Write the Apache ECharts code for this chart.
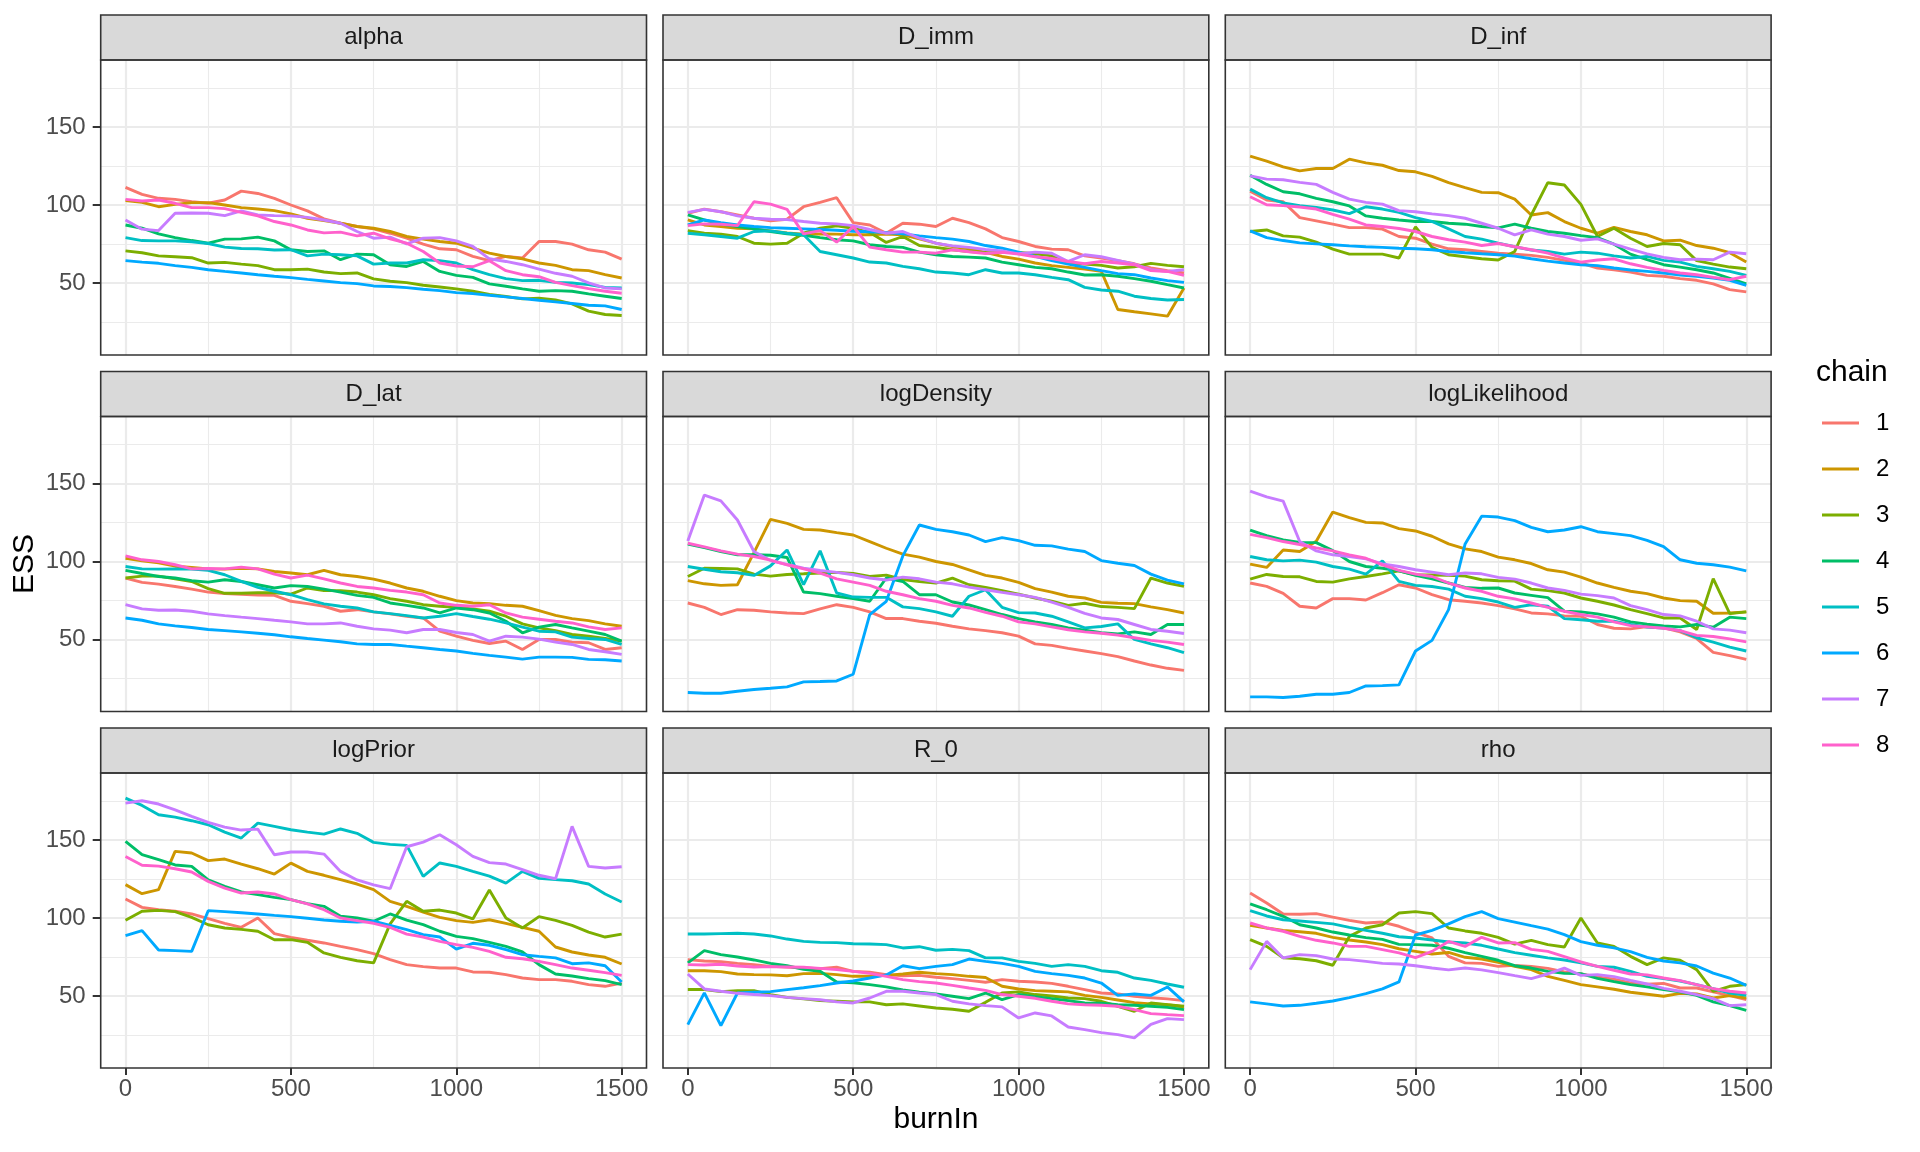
<!DOCTYPE html>
<html>
<head>
<meta charset="utf-8">
<script src="https://cdn.jsdelivr.net/npm/echarts@6/dist/echarts.min.js"></script>
<style>
html,body{margin:0;padding:0;background:#ffffff;}
#chart{width:1920px;height:1152px;}
</style>
</head>
<body>
<div id="chart"></div>
<script>
// ---------------- data ----------------
const BURN_IN = [0,50,100,150,200,250,300,350,400,450,500,550,600,650,700,750,800,850,900,950,1000,1050,1100,1150,1200,1250,1300,1350,1400,1450,1500];
const CHAINS = ['1','2','3','4','5','6','7','8'];
const PARAMETERS = ['alpha','D_imm','D_inf','D_lat','logDensity','logLikelihood','logPrior','R_0','rho'];
const X_TICKS = [0,500,1000,1500];
const X_MINOR = [250,750,1250];
const Y_TICKS = [50,100,150];
const Y_MINOR = [25,75,125,175];

const ESS_alpha = [
 [111.3,106.8,104.3,103.6,102.1,101.1,103.2,108.9,107.4,104.3,100,96.2,91.1,88.3,86.2,84.7,81.9,78.7,74.9,71.9,71.3,67,64.3,67,66,76.6,76.6,74.9,71.3,69.8,65.3],
 [102.8,101.7,98.9,100.4,101.5,101.5,100,98.3,97.4,96.4,94.3,91.5,90,88.3,86.2,85.1,83,79.8,78.1,76.6,75.5,72.3,69.1,67,65.5,62.8,61.3,58.5,57.9,55.3,53.2],
 [70.6,69.4,67.4,66.8,66.2,62.8,63.2,62.1,61.1,58.5,58.5,58.9,57,56,56.4,52.6,51.1,50.2,48.5,47.4,46.2,44.7,42.6,41.3,39.8,40.2,39.1,36.6,31.9,29.8,29.1],
 [87.2,85.1,81.5,79.1,77.2,75.5,78.1,78.3,79.4,77,71.3,70.2,70.6,64.9,68.5,68.1,61.7,60.6,63.8,57.4,54.9,53.6,49.4,47.9,46.2,44.7,45.1,44.7,43,41.5,40],
 [79.1,77.2,77,77,76.4,75.3,73,72.1,71.9,71.1,71.3,67.4,68.5,68.1,67.4,62.1,62.8,62.8,64.9,64.3,62.8,58.5,55.3,52.8,51.5,51.7,50.4,50,48.9,47.2,46.8],
 [64.3,63.4,62.6,61.1,60,58.5,57.4,56.4,55.3,54.3,53.4,52.3,51.3,50.2,49.6,48.1,47.7,47,46,45.1,43.8,43.2,42.1,41.1,40,38.9,37.9,36.8,35.7,35.3,33],
 [90.4,84.5,83.6,94.7,94.9,94.7,93.2,96.2,93.6,93.2,93,92.1,90.4,88.3,83,78.7,79.4,75.1,78.7,79.1,77,73.4,65.5,63.8,61.7,58.9,56.2,54.3,50,46.8,46.2],
 [103.6,102.6,103.2,101.1,98.3,98.3,97.7,95.3,93,89.4,87.2,84,82.1,82.6,80.2,81.9,78.3,75.5,70.2,62.8,60.9,60.4,64.3,57.9,55.3,54,50.4,48.3,46.4,44.7,43.4]
];
const ESS_D_imm = [
 [94.7,97.4,95.7,93.6,91.5,89.8,90.9,98.9,101.7,104.7,88.7,87.2,81.9,88.3,87.7,86.2,91.5,88.7,84.7,79.1,76.6,73.4,71.7,71.3,67.4,66,64.3,62.3,59.6,57.9,56.4],
 [90.4,87.2,86.2,85.1,84.7,83.4,82.1,81.3,81.5,81.3,80.9,80.9,81.3,80.9,78.3,75.5,73.4,71.9,69.6,67,65.3,62.8,61.1,60,58.9,57.4,33,31.5,30.2,28.7,46.8],
 [83.6,81.9,81.3,79.8,75.5,74.9,75.5,81.9,85.1,86.6,85.1,82.3,76,79.8,74,72.8,71.3,70.2,69.4,69.6,69.6,68.7,67.4,62.8,62.1,61.3,59.6,60.4,62.6,61.3,60.4],
 [93.6,90.4,87.7,86.2,84.7,83,81.5,80.6,79.1,77.7,77,74.5,73.4,72.8,69.8,68.1,67,66.6,66,63.4,61.7,60,59.1,57,55.1,55.3,54.3,52.8,51.1,48.9,46.8],
 [81.9,80.9,79.8,78.7,83,83.4,81.9,80.9,70.2,68.1,66,63.4,62.8,60.6,59.1,57,56.4,55.3,58.5,56.4,56.4,55.3,53.6,52.1,47.2,45.5,44.7,41.5,40,39.1,39.4],
 [87.2,90.4,88.7,87.2,86.2,85.5,85.1,84.7,84.3,83.8,83.2,82.8,82.3,81.5,80.2,79.1,78.1,76.6,74,72.3,69.8,67,64.3,62.1,60,57.9,56,55.3,53.2,51.5,50.4],
 [95.3,97.2,95.7,93,91.5,90.9,90.6,89.4,88.3,87.9,86.8,84.3,81.9,83,78.7,75.5,73.8,72.8,71.5,70.6,68.7,69.8,69.1,63.8,68.1,66.8,64.5,62.1,58.5,57.4,58.5],
 [86.8,87.9,87.7,86.8,102.1,100.6,97.2,81.5,83.6,76.2,86.2,73,71.3,69.8,69.8,69.1,71.3,70,68.9,69.6,68.5,66.8,65.7,63.8,62.3,63.8,62.8,61.7,57.9,57.4,54.9]
];
const ESS_D_inf = [
 [108.9,103.2,102.1,91.9,89.8,87.7,85.5,85.5,84.5,79.8,78.7,74.9,71.9,71.3,70.2,69.1,68.5,67.7,66.4,64.5,62.8,59.6,58.5,57,54.9,54.3,52.8,51.7,49.4,45.7,44.3],
 [131.3,128.1,124.5,121.9,123.4,123.4,129.4,127,125.5,122.1,121.3,118.3,114.3,111.1,108.1,107.9,103.8,93.6,95.1,89.4,85.1,81.9,85.7,83,80.9,77,77.4,74,72.3,69.4,63.4],
 [83,84,80.2,79.4,76.2,71.7,68.5,68.5,68.5,66,86,72.8,68.1,66.8,65.5,64.7,70.2,93.6,114.3,112.8,100.4,79.8,85.1,78.7,73.4,75.3,74.5,64.3,62.1,60.2,59.1],
 [119.1,113.2,108.5,107.2,104.3,102.1,99.4,93,91.5,90.4,89.4,89.4,88.3,87.7,86.2,85.3,87.7,85.1,83,81.9,80.4,79.1,74.9,68.5,64.9,61.7,60.2,58.5,56.4,53,49.4],
 [110.2,104.7,101.3,99.6,98.5,96.8,94.5,98.9,97.4,95.3,91.9,89.4,84.7,79.8,78.1,75.5,73.2,71.1,70.2,68.5,69.8,69.1,67.4,66,67,64.5,63.4,60.6,59.1,57.4,54.9],
 [83.4,79.1,77.2,75.7,75.1,74.5,73.8,73.2,72.8,72.3,71.9,71.3,70.2,69.4,68.7,68.1,67.2,65.5,64,62.8,61.7,61.1,59.6,58.3,57.4,56.4,55.1,54.3,53.2,51.7,48.5],
 [118.7,116.6,116.2,114.5,113.2,108.1,103.8,101.7,100.6,96.4,95.7,94.3,93.2,91.5,88.3,85.1,80.9,84,81.3,79.8,77.4,78.3,74.9,71.7,68.7,66.4,64.9,65.3,64.9,69.8,68.7],
 [105.3,100.2,99.6,98.7,97.4,94,90.9,87.2,86.2,84.9,83,79.8,77.7,76.2,74,75.3,73.2,71.3,69.1,65.9,63.4,64.7,65.5,62.3,60,58.1,56.4,55.3,53.6,52.1,54.3]
];
const ESS_D_lat = [
 [89.4,86.6,85.5,84,82.3,80.4,79.4,78.9,78.5,78.3,74.5,73,71.3,68.1,69.1,67.7,66.4,64.9,63.8,55.3,52.1,49.4,47.4,48.9,43.6,50,50,48.3,47.9,43.6,44.7],
 [102.1,100.4,99.1,97,96.2,95.3,95.1,95.7,95.3,93.6,92.6,91.5,94.3,91.5,90.4,88.7,86.2,83,80.9,77.7,74.9,73.4,73,71.9,71.3,68.5,65.5,63.4,62.1,60,58.5],
 [89.4,90.6,90.6,88.9,87.2,82.6,79.6,79.6,80,80,79.1,83,81.3,81.3,80.4,78.7,76.2,74.5,72.3,71.3,70.6,69.6,68.1,64.9,60,57.4,55.7,53.2,52.1,50.6,48.9],
 [94.3,92.3,90.4,89.4,87.7,86.8,88.3,87.2,85.1,83,84.5,84,82.3,80.4,78.3,77,73.4,71.9,70.2,67,70.2,69.1,67,61.7,54.3,57.9,59.6,57.4,55.3,53.2,48.9],
 [96.8,95.3,95.1,95.3,95.1,94.3,91.5,87.2,83.4,80.9,78.7,75.5,72.8,71.3,70.2,67.7,66.6,65.3,63.8,64.9,66.6,64.7,63,60.6,57.9,55.3,54.9,51.5,50.6,50,46.8],
 [63.8,62.3,60,58.7,57.7,56.4,55.7,54.9,54,53,51.7,50.6,49.6,48.5,47.2,46.8,46.8,45.7,44.7,43.6,42.6,41.1,39.8,38.7,37.4,38.7,38.7,38.5,37.2,37,36.2],
 [72.3,69.6,68.7,68.9,68.1,66.4,65.3,64.3,63.4,62.3,61.3,60,60,60.6,58.5,56.8,56,54.3,56.4,56.4,54.5,53.2,48.9,52.1,51.5,50.2,48.3,46.8,43.6,42.1,40.4],
 [103.6,101.1,100,97.9,95.3,95.5,95.3,96.4,95.3,91.9,89.4,91.3,88.9,86.2,84,83,81.5,80.4,78.7,73.4,71.9,71.3,72.3,67,64.3,63,61.7,60.6,58.1,56.4,57.4]
];
const ESS_logDensity = [
 [73.4,70.6,66,69.1,68.7,67.7,67,66.6,69.6,72.3,70.6,67.7,63.4,63.4,61.7,60.4,58.5,56.8,55.7,54.3,52.1,47.2,46.2,44.3,42.6,40.9,39,36.2,33.6,31.5,30.2],
 [87.7,85.7,84.7,85.1,105.7,127,124.5,120.6,120.2,118.5,117,112.8,108.5,104.7,102.8,100,98.1,94.7,91.1,89.4,86.6,82.6,80.4,77.7,76.6,73.8,73.2,73,70.9,69.1,67],
 [90.4,95.7,95.5,95.3,91.9,90.6,91.7,92.1,92.6,93,92.3,90.4,91.3,88.5,87.2,86.2,89.4,85.1,83.4,81.3,79.1,76.6,74.5,71.9,73.2,71.1,70.6,69.8,89.4,86.2,84],
 [111.1,108.9,106.4,104.3,104.3,104,102.6,80.4,79.4,77.7,76.2,74.5,89.4,87.2,78.7,78.7,74,72.1,69.1,66,63.4,61.3,59.6,57.4,56,54.3,53.6,54.9,53.2,59.6,59.6],
 [96.8,95,93.4,92.8,91.1,97.2,107.4,85.1,106.8,79.8,77.2,77,77,70.9,69.8,67.7,64.9,77.7,81.9,70.6,67.2,67,64.9,61.3,57.4,58.3,60,50,47.2,44.7,41.5],
 [16,15.5,15.5,16.8,17.9,18.7,19.6,22.8,23,23.4,27.7,66,74.5,103.6,123.4,120.6,119.1,117,112.8,115.3,113.4,110.4,110,107.9,106.4,100.6,98.9,97.4,91.9,88.1,85.7],
 [113.2,142.6,138.9,126.6,106.4,100.6,98.1,95.7,94.3,93,91.5,89.4,88.1,90,88.9,86.8,85.7,83.6,81.9,80.2,78.7,77,74,70.6,66.8,63.8,62.8,59.6,56.4,55.3,53.8],
 [111.7,109.4,106.8,104.7,103.2,100.9,97.9,95.3,92.6,88.9,86.8,84.7,80.9,78.7,76.2,74.5,71.9,70.2,67.4,64.9,61.3,60,58.1,56.2,54.9,54,52.8,51.1,49.4,48.3,46.8]
];
const ESS_logLikelihood = [
 [86.2,84,79.6,71.3,70.2,76.2,76.2,75.3,80,85.1,83,78.7,75.5,74.5,73.4,71.7,69.6,67,66.4,65.1,64.9,59.6,57.2,56.8,58.3,57.4,54.9,50.6,41.7,39.6,37.2],
 [98.3,96.2,107.4,106.4,113,131.7,128.1,125.1,124.7,121.1,119.6,116.2,111.3,108.1,106.4,102.8,101.1,98.7,94.7,93.2,90,86.2,83.4,80.9,79.4,76.6,74.9,74.5,66.8,67,67.7],
 [88.7,91.7,90.4,90.2,87.2,86.8,88.9,90.4,92.1,94,91.5,91.3,91.1,90.6,88.3,87.7,87.4,82.3,81.3,79.8,76.6,74.5,72.1,69.1,66.6,63.8,63.8,56.4,89,66.6,67.7],
 [120.2,116.6,113.8,112.3,112.1,107,100,96.8,95.7,94,91.1,88.9,86.2,83.4,82.8,83,79.8,78.3,76.8,68.1,67.7,66.4,64.3,61.3,59.8,58.7,58.1,59.6,57.9,64.3,63.4],
 [103.2,101.1,100.4,100.9,99.6,96.8,95.1,91.9,100.4,87.2,84.7,84,82.3,77.7,76.2,74,70.6,72.3,71.3,63.4,62.6,61.7,61.7,59.6,57.9,57.4,55.7,51.1,48.3,45.1,42.6],
 [13.2,13.2,12.8,13.6,14.9,14.9,16,20.2,20.4,20.9,42.6,49.4,69.1,111.3,129.1,128.5,126.2,121.9,119.1,120.2,122.3,119.1,117.9,116.6,113.6,109.6,101.1,98.9,97.9,96.4,94],
 [145.1,141.5,138.7,112.8,106.8,104.3,103.2,101.7,98.5,96.8,94.7,93.2,91.5,92.6,92.1,89.8,88.7,86.2,83,81.5,79.1,78.1,76.6,71.7,69.1,66,65.1,61.7,56.8,56,54.3],
 [117.4,115.3,112.8,110.9,108.7,106.8,104.3,102.1,97.9,94.3,91.9,90.4,86.2,83,80.9,77.7,76,73.4,70.6,68.1,66,64.3,61.3,58.9,58.1,57.2,55.7,52.6,51.9,50.4,48.5]
];
const ESS_logPrior = [
 [112.2,106.8,105.3,104.3,102.6,99.6,96.6,94,100,90,87.6,85.7,84,81.8,79.7,77.1,73.3,70.1,68.8,67.9,67.9,65.4,65.2,63.7,61.5,60.5,60.5,59.4,57.3,56.2,58.3],
 [121.4,115.6,118.2,142.7,141.7,136.8,137.8,134.6,131.6,128.2,135.2,129.9,127.4,124.6,121.8,118.2,110.7,107.5,103.8,100.4,98.3,97.2,98.9,96.6,94,91.5,81.4,78.2,76.3,74.8,70.5],
 [98.5,104.3,104.9,104.1,100.4,95.7,93.6,92.7,91.5,86.1,86.1,84.4,77.6,74.8,72.6,71.2,96.2,110.7,104.3,105.1,103.2,99.4,118,100,93.6,100.9,98.5,95.3,91,87.8,89.7],
 [149.1,140.6,137.4,134,133.1,124.4,120.3,116.7,115,113.2,111.8,109.2,107.5,101.1,100,97.9,102.6,98.7,95.7,91.5,88.2,86.8,84.4,81.8,78.2,70.1,64.1,62.8,61.1,59.8,57.3],
 [176.9,172.2,166.2,164.7,162.4,159.8,155.1,151.3,160.9,158.8,156.6,155.1,153.8,157.1,154.3,148.5,147.2,146.6,126.7,135.3,133.1,129.9,126.9,122.4,129.9,125.4,124.6,123.9,121.8,115.4,110.3],
 [88.7,91.9,79.5,79.1,78.6,104.7,104.1,103.4,102.6,101.7,100.9,99.8,98.7,97.9,97.4,97.9,95.3,92.5,89.3,87.8,80,83.8,82.5,79.7,76.5,75.4,74.4,70.7,71.2,69.4,59],
 [173.7,175.2,173.1,169.4,165.2,161.3,158.3,156.4,157,140.6,142.3,142.3,141,129.9,124.4,121.2,118.8,145.7,148.7,153.4,147,139.5,135.5,134.6,131,127.4,125.2,158.8,133.1,132.1,132.9],
 [139.5,133.8,133.3,131.6,129.5,123.5,119.2,116,116.7,115.4,111.8,109,105.3,100,98.3,96.6,94,89.7,87.8,85,82.9,81.2,78.6,74.8,73.9,72.2,70.1,67.9,66.5,65,63.2]
];
const ESS_R_0 = [
 [73.3,72.4,72,70.9,70.1,69,68.6,67.9,67.5,68.4,65.8,65.2,63.7,63,63.2,62,61.1,60,58.8,60.5,59.4,59,58.1,56.2,54.1,51.9,51.3,49.8,48.9,48.1,47],
 [66.2,66.2,65.6,64.1,63.7,63.5,63,64.3,64.5,63.7,62.6,62.6,63.2,64.1,65.2,64.3,63.7,62.6,61.8,56.2,54.5,53.4,53,52.6,50.4,49.1,47.4,45.7,44.9,44.4,42.9],
 [54.1,54.1,52.8,53.4,53.4,50.9,49.1,48.1,47,46.6,46.2,46.2,44.4,44.9,43.6,42.3,41.5,40.2,45.9,51.9,52.6,50.9,50,48.7,48.3,46.6,43.4,40.2,45.5,44.4,43.4],
 [71.2,79.1,76.5,75,73.1,70.9,69.4,67.1,65.8,59,58.5,57.3,55.8,53.8,52.4,51.3,49.8,48.3,51.9,47.6,50.9,49.6,48.3,47,45.5,45.3,44.4,44,43.4,42.7,41.2],
 [89.7,89.7,90,90.2,89.7,88.5,86.5,85,84.4,84.2,83.5,83.3,82.9,80.8,81.6,79.3,79.9,79.1,74.4,74.4,72.2,70.9,69,70.1,69,66.2,65.2,61.5,60,57.7,55.6],
 [31.6,52,31,51.9,52.4,52.8,54.1,55.3,56.6,58.3,59.6,61.5,63.5,69.4,67.5,69,70.1,73.7,72.2,70.9,69,65.8,64.3,63.2,61.5,58.3,50.4,51.3,50.4,55.8,46.2],
 [64.1,54.5,53,51.7,50.9,50.2,49.1,48.3,47.6,46.2,45.5,48.7,53,53,51.9,50.9,46.6,44.9,43.8,43,35.9,39.1,37.2,30.1,28.4,26.5,25.2,23.1,31.8,35.5,34.8],
 [70.1,69.9,70.3,69.2,68.6,68.8,68.6,68.4,67.7,66.9,65.8,64.5,62.6,60.5,59.2,58.3,56.8,55.1,53.6,50.9,49.8,48.5,46.6,44.9,44.4,44,43.4,41.2,38.7,38,37.4]
];
const ESS_rho = [
 [116,109.6,102.6,102.4,102.8,100.6,98.5,96.8,97.4,94.7,90.8,87.2,75.4,71.2,70.9,69,69.6,69,67.7,65.4,64.1,62.2,60.7,58.3,57.5,58.1,55.1,55.1,52.6,50.2,47.6],
 [95.3,93.6,92.1,91.2,90.2,87.6,85.9,84.6,82.9,80.3,78.6,76.9,77.9,74.8,73.7,71.6,69,66.9,62.6,60,57.3,55.8,54.3,52.4,51.1,49.8,51.7,51.3,48.7,50.2,48.7],
 [86.1,81.8,74.4,73.9,72.6,69.7,88.2,93.6,95.7,103.2,104.1,102.8,93.6,91.7,90.2,87.6,83.3,85.7,82.9,81.4,100,84,81.8,75.4,70.1,74.4,72.9,66.9,53,56.2,57.3],
 [109,105.3,101.1,95.7,93.6,91,89.1,87.4,86.3,83.1,82.9,82.5,80.6,77.8,75.4,72.9,69.4,67.9,65.8,64.5,64.3,61.3,59.2,57.3,55.8,54.1,52.6,50.4,46.2,43.8,40.8],
 [104.7,101.3,98.9,98.1,97.2,96.2,94,92.1,90.2,88,87.2,85.9,84.6,84,82.5,80.1,77.8,76.1,74.4,73.1,71.2,69,68.4,65.8,62.6,61.1,59.6,57.3,54.7,51.9,50.4],
 [46.2,44.9,43.6,44,45.3,46.8,48.9,51.5,54.5,59,89.1,92.1,96.2,100.9,104.1,99.6,97.4,95.1,92.9,89.3,84.8,82.5,80.8,78.4,74.8,72.4,71.2,69.2,64.7,61.5,56.8],
 [66.9,85,74.4,76.5,75.9,73.7,73.3,72.2,70.9,70.5,69.4,67.9,66.7,67.9,66.7,65,63,61.1,64.1,67.9,63.2,63.7,62.4,60,57.7,54.9,53,50.9,48.3,43.8,44.4],
 [96.8,93.6,91.5,88.2,85.7,84,81.8,81.8,79.7,77.6,74.6,78.6,85,81.8,87.6,84,84.2,79.9,78.6,75.2,71.8,69,66.5,64.1,63.5,61.5,59.8,57.3,54.7,53,51.9]
];
const ESS_BY_PARAMETER = [ESS_alpha, ESS_D_imm, ESS_D_inf, ESS_D_lat, ESS_logDensity, ESS_logLikelihood, ESS_logPrior, ESS_R_0, ESS_rho];

// ---------------- styling / layout ----------------
const CHAIN_COLORS = ['#F8766D','#CD9600','#7CAE00','#00BE67','#00BFC4','#00A9FF','#C77CFF','#FF61CC'];
const FONT = '"Liberation Sans", Arial, sans-serif';
const COL_LEFT = [100.7, 663.0, 1225.3];
const ROW_TOP = [60, 416.5, 773];
const PANEL_W = 545.8, PANEL_H = 295, STRIP_H = 45;
const X_MIN = -75, X_MAX = 1575, Y_MIN = 3.8, Y_MAX = 193;
const plainNumber = v => String(Math.round(v));

const grids = [], xAxes = [], yAxes = [], series = [], graphics = [];
const xMinorAxes = [], yMinorAxes = [];

PARAMETERS.forEach((param, p) => {
  const row = Math.floor(p / 3), col = p % 3;
  const left = COL_LEFT[col], top = ROW_TOP[row];
  grids.push({left: left, top: top, width: PANEL_W, height: PANEL_H, show: false, containLabel: false, outerBoundsMode: 'none'});
  const bottomRow = row === 2, leftCol = col === 0;
  xAxes.push({
    gridIndex: p, type: 'value', min: X_MIN, max: X_MAX, position: 'bottom', z: 1,
    axisLine: {show: false, onZero: false},
    axisTick: {show: bottomRow, customValues: X_TICKS, length: 7, lineStyle: {color: '#333333', width: 2}},
    axisLabel: {show: bottomRow, customValues: X_TICKS, formatter: plainNumber, color: '#4D4D4D', fontSize: 24, fontFamily: FONT, margin: 9},
    splitLine: {show: true, lineStyle: {color: '#EBEBEB', width: 2.2}}
  });
  xMinorAxes.push({
    gridIndex: p, type: 'value', min: X_MIN, max: X_MAX, position: 'top', z: 1,
    axisLine: {show: false, onZero: false},
    axisTick: {show: false, customValues: X_MINOR},
    axisLabel: {show: false, customValues: X_MINOR},
    splitLine: {show: true, lineStyle: {color: '#EBEBEB', width: 1.1}}
  });
  yAxes.push({
    gridIndex: p, type: 'value', min: Y_MIN, max: Y_MAX, position: 'left', z: 1,
    axisLine: {show: false, onZero: false},
    axisTick: {show: leftCol, customValues: Y_TICKS, length: 8, lineStyle: {color: '#333333', width: 2}},
    axisLabel: {show: leftCol, customValues: Y_TICKS, formatter: plainNumber, color: '#4D4D4D', fontSize: 24, fontFamily: FONT, margin: 15},
    splitLine: {show: true, lineStyle: {color: '#EBEBEB', width: 2.2}}
  });
  yMinorAxes.push({
    gridIndex: p, type: 'value', min: Y_MIN, max: Y_MAX, position: 'right', z: 1,
    axisLine: {show: false, onZero: false},
    axisTick: {show: false, customValues: Y_MINOR},
    axisLabel: {show: false, customValues: Y_MINOR},
    splitLine: {show: true, lineStyle: {color: '#EBEBEB', width: 1.1}}
  });

  const ess = ESS_BY_PARAMETER[p];
  CHAINS.forEach((ch, c) => {
    series.push({
      type: 'line', name: ch, xAxisIndex: p, yAxisIndex: p,
      data: BURN_IN.map((b, k) => [b, ess[c][k]]),
      showSymbol: false, symbol: 'none', silent: true, animation: false, z: 2,
      color: CHAIN_COLORS[c],
      itemStyle: {color: CHAIN_COLORS[c]},
      lineStyle: {color: CHAIN_COLORS[c], width: 2.9}
    });
  });

  // strip
  graphics.push({type: 'rect', z: 50, shape: {x: left, y: top - STRIP_H, width: PANEL_W, height: STRIP_H},
    style: {fill: '#D9D9D9', stroke: '#333333', lineWidth: 1.6}});
  graphics.push({type: 'text', z: 51, x: left + PANEL_W / 2, y: top - STRIP_H / 2,
    style: {text: param, fill: '#1A1A1A', font: '24px ' + FONT, textAlign: 'center', textVerticalAlign: 'middle', align: 'center', verticalAlign: 'middle'}});
  // panel border
  graphics.push({type: 'rect', z: 50, shape: {x: left, y: top, width: PANEL_W, height: PANEL_H},
    style: {fill: 'none', stroke: '#333333', lineWidth: 1.6}});
});

// titles
graphics.push({type: 'text', z: 51, x: 936, y: 1120,
  style: {text: 'burnIn', fill: '#000000', font: '30px ' + FONT, textAlign: 'center', textVerticalAlign: 'middle', align: 'center', verticalAlign: 'middle'}});
graphics.push({type: 'text', z: 51, x: 25, y: 564, rotation: Math.PI / 2,
  style: {text: 'ESS', fill: '#000000', font: '30px ' + FONT, textAlign: 'center', textVerticalAlign: 'middle', align: 'center', verticalAlign: 'middle'}});
graphics.push({type: 'text', z: 51, x: 1816, y: 373,
  style: {text: 'chain', fill: '#000000', font: '30px ' + FONT, textAlign: 'left', textVerticalAlign: 'middle', align: 'left', verticalAlign: 'middle'}});

const chart = echarts.init(document.getElementById('chart'), null, {renderer: 'canvas', width: 1920, height: 1152});
chart.setOption({
  backgroundColor: '#FFFFFF',
  animation: false,
  grid: grids,
  xAxis: xAxes.concat(xMinorAxes),
  yAxis: yAxes.concat(yMinorAxes),
  legend: {
    data: CHAINS, orient: 'vertical', left: 1822, top: 411, padding: 0,
    itemWidth: 37, itemHeight: 3, itemGap: 22, icon: 'rect', selectedMode: false,
    textStyle: {fontSize: 24, color: '#000000', fontFamily: FONT, lineHeight: 24, padding: [0, 0, 0, 12]}
  },
  series: series,
  graphic: {elements: graphics}
});
</script>
</body>
</html>
